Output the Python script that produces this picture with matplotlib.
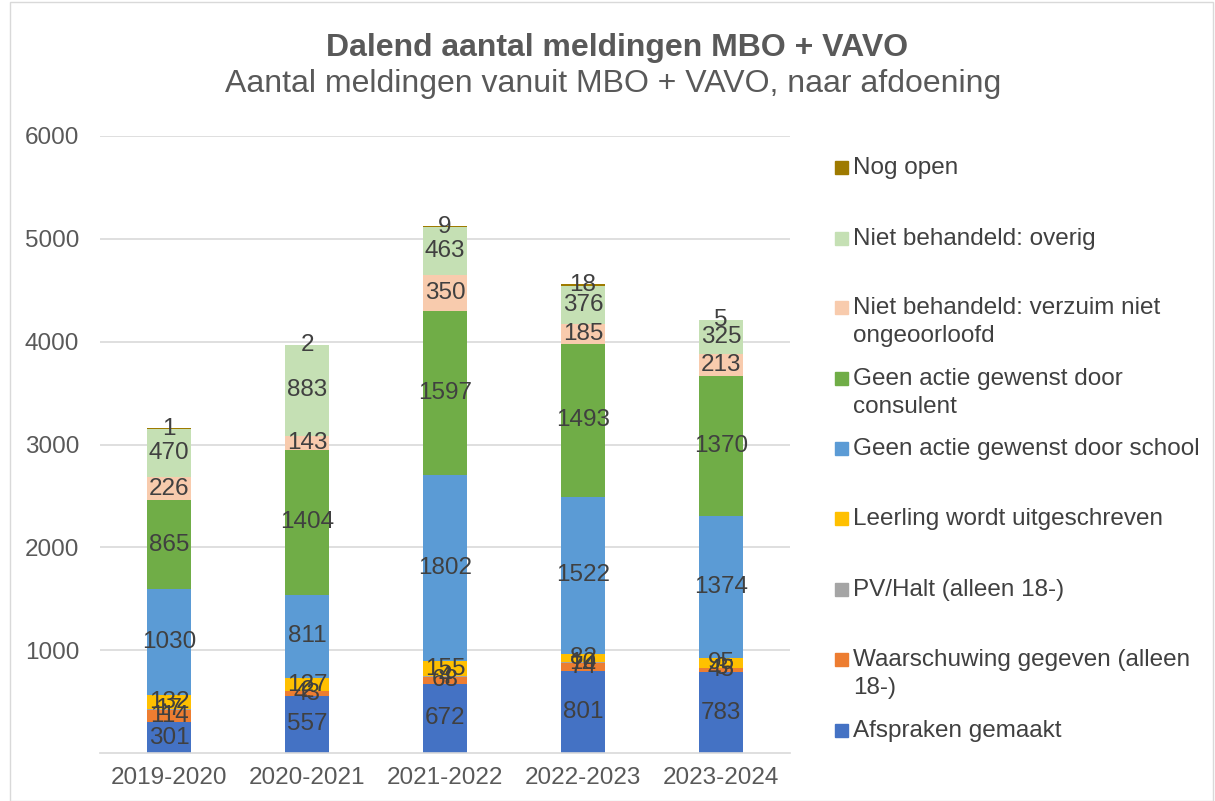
import matplotlib.pyplot as plt
import numpy as np
from matplotlib.patches import Rectangle

plt.rcParams["font.family"] = ["Liberation Sans", "DejaVu Sans"]

years = ["2019-2020", "2020-2021", "2021-2022", "2022-2023", "2023-2024"]
series_names = [
    "Afspraken gemaakt",
    "Waarschuwing gegeven (alleen\n18-)",
    "PV/Halt (alleen 18-)",
    "Leerling wordt uitgeschreven",
    "Geen actie gewenst door school",
    "Geen actie gewenst door\nconsulent",
    "Niet behandeld: verzuim niet\nongeoorloofd",
    "Niet behandeld: overig",
    "Nog open",
]
afspraken = [301, 557, 672, 801, 783]
waarschuwing = [114, 43, 68, 74, 45]
pv_halt = [17, 2, 4, 10, 3]
uitgeschreven = [132, 127, 155, 82, 95]
school = [1030, 811, 1802, 1522, 1374]
consulent = [865, 1404, 1597, 1493, 1370]
verzuim = [226, 143, 350, 185, 213]
overig = [470, 883, 463, 376, 325]
nog_open = [1, 2, 9, 18, 5]

values = [afspraken, waarschuwing, pv_halt, uitgeschreven, school,
          consulent, verzuim, overig, nog_open]
colors = ["#4472C4", "#ED7D31", "#A5A5A5", "#FFC000", "#5B9BD5",
          "#70AD47", "#F8CBAD", "#C5E0B4", "#9E7A00"]

FS = 17.5
fig = plt.figure(figsize=(12.15, 8.01), dpi=100)
W, H = 1215, 801
ax = fig.add_axes([100 / W, 1 - 753 / H, 690 / W, (753 - 136) / H])

x = np.arange(len(years))
bottom = np.zeros(len(years))
for vals, col in zip(values, colors):
    vals = np.array(vals, dtype=float)
    ax.bar(x, vals, 0.32, bottom=bottom, color=col, zorder=2)
    for xi, b, v in zip(x, bottom, vals):
        ax.text(xi, b + v / 2, f"{int(v)}", ha="center", va="center",
                fontsize=FS, color="#404040", zorder=3)
    bottom += vals

ax.set_xlim(-0.5, len(years) - 0.5)
ax.set_ylim(0, 6000)
ax.set_yticks(range(1000, 6001, 1000))
ax.set_xticks(x)
ax.set_xticklabels(years)
ax.tick_params(axis="both", length=0, labelsize=FS, labelcolor="#595959")
ax.tick_params(axis="y", pad=15)
ax.tick_params(axis="x", pad=10)
ax.grid(axis="y", color="#D9D9D9", linewidth=1.2, zorder=0)
for s in ["top", "right", "left"]:
    ax.spines[s].set_visible(False)
ax.spines["bottom"].set_color("#D9D9D9")
ax.spines["bottom"].set_linewidth(1.2)

# legend drawn by hand to match spacing
legend_y = [168, 239, 308, 379, 449, 519, 590, 660, 731]
for name, col, ly in zip(series_names[::-1], colors[::-1], legend_y):
    fig.patches.append(Rectangle((835 / W, 1 - (ly + 6) / H), 13 / W, 13 / H,
                                 transform=fig.transFigure, color=col))
    for i, line in enumerate(name.split("\n")):
        fig.text(853 / W, 1 - (ly + 28 * i) / H, line, ha="left", va="center",
                 fontsize=FS, color="#404040")

fig.text(617 / W, 1 - 48 / H, "Dalend aantal meldingen MBO + VAVO",
         ha="center", va="center", fontsize=23, fontweight="bold", color="#595959")
fig.text(613 / W, 1 - 84 / H,
         "Aantal meldingen vanuit MBO + VAVO, naar afdoening",
         ha="center", va="center", fontsize=23, color="#595959")

fig.patches.append(Rectangle((10 / W, 0), 1203 / W, 1 - 2 / H, transform=fig.transFigure,
                             fill=False, edgecolor="#D9D9D9", linewidth=1))

fig.savefig("out.png", dpi=100, facecolor="white")
